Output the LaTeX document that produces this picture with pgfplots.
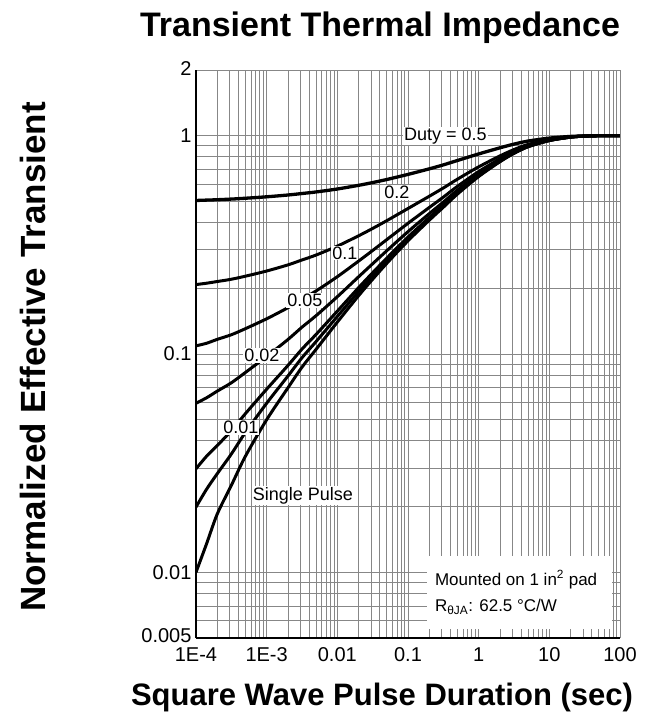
\documentclass[border=0pt]{standalone}
\usepackage{fontspec}
\setmainfont{Liberation Sans}
\usepackage{pgfplots}
\usepackage{pgfplotstable}
\pgfplotsset{compat=1.18}
\definecolor{gridgray}{RGB}{135,135,135}
\pgfplotstableread{
x s d50 d20 d10 d05 d02 d01
1e-4 0.0100 0.505 0.208 0.109 0.0595 0.0298 0.0199
1.41e-4 0.0135 0.507 0.211 0.112 0.063 0.034 0.024
2e-4 0.0185 0.509 0.2148 0.1167 0.0676 0.0381 0.0283
3.16e-4 0.025 0.5125 0.220 0.1225 0.0738 0.0445 0.0348
5e-4 0.034 0.517 0.2272 0.1306 0.0823 0.0533 0.0437
1e-3 0.050 0.525 0.240 0.145 0.0975 0.069 0.0595
2e-3 0.070 0.535 0.256 0.163 0.1165 0.0886 0.0793
3.16e-3 0.087 0.5435 0.2696 0.1783 0.1327 0.1053 0.0961
5e-3 0.105 0.5525 0.284 0.1945 0.1498 0.1229 0.114
1e-2 0.140 0.570 0.312 0.226 0.183 0.1572 0.1486
2e-2 0.185 0.5925 0.348 0.2665 0.2258 0.2013 0.1932
3.16e-2 0.22 0.61 0.376 0.298 0.259 0.2356 0.2278
5e-2 0.26 0.63 0.408 0.334 0.297 0.2748 0.2674
0.1 0.33 0.665 0.464 0.397 0.3635 0.3434 0.3367
0.2 0.41 0.705 0.528 0.469 0.4395 0.4218 0.4159
0.316 0.47 0.735 0.576 0.523 0.4965 0.4806 0.4753
0.5 0.54 0.77 0.632 0.586 0.563 0.5492 0.5446
1 0.65 0.825 0.72 0.685 0.6675 0.657 0.6535
2 0.76 0.88 0.808 0.784 0.772 0.7648 0.7624
3.16 0.83 0.915 0.864 0.847 0.8385 0.8334 0.8317
5 0.89 0.945 0.912 0.901 0.8955 0.8922 0.8911
10 0.95 0.975 0.96 0.955 0.9525 0.951 0.9505
20 0.985 0.9925 0.988 0.9865 0.9858 0.9853 0.9852
31.6 0.995 0.9975 0.996 0.9955 0.9953 0.9951 0.9951
50 1.0 1.0 1.0 1.0 1.0 1.0 1.0
100 1.0 1.0 1.0 1.0 1.0 1.0 1.0
}\zth
\begin{document}
\begin{tikzpicture}
\begin{axis}[
  at={(0,0)}, anchor=south west,
  scale only axis, width=424bp, height=568bp,
  xmode=log, ymode=log,
  xmin=1e-4, xmax=100, ymin=0.005, ymax=2,
  xtick={1e-4,1e-3,1e-2,1e-1,1,10,100},
  xticklabels={1E-4,1E-3,0.01,0.1,1,10,100},
  ytick={0.005,0.01,0.1,1,2},
  yticklabels={\raisebox{5bp}{0.005},0.01,0.1,1,\raisebox{2bp}{2}},
  minor xtick={2e-4,3e-4,4e-4,5e-4,6e-4,7e-4,8e-4,9e-4,
    2e-3,3e-3,4e-3,5e-3,6e-3,7e-3,8e-3,9e-3,
    0.02,0.03,0.04,0.05,0.06,0.07,0.08,0.09,
    0.2,0.3,0.4,0.5,0.6,0.7,0.8,0.9,
    2,3,4,5,6,7,8,9,20,30,40,50,60,70,80,90},
  minor ytick={0.006,0.007,0.008,0.009,
    0.02,0.03,0.04,0.05,0.06,0.07,0.08,0.09,
    0.2,0.3,0.4,0.5,0.6,0.7,0.8,0.9},
  grid=both,
  major grid style={gridgray, line width=0.9bp},
  minor grid style={gridgray, line width=0.8bp},
  axis x line*=bottom, axis y line*=left,
  axis line style={black, line width=1.4bp},
  major tick length=0pt, minor tick length=0pt,
  ticklabel style={font=\fontsize{20bp}{24bp}\selectfont},
  xticklabel style={yshift=-6bp},
  yticklabel style={xshift=-1bp},
  /pgf/number format/assume math mode=true,
]
\addplot[black, line width=3.3bp, smooth, line join=round] table[x=x, y=d50] {\zth};
\addplot[black, line width=3bp, smooth, line join=round] table[x=x, y=d20] {\zth};
\addplot[black, line width=3bp, smooth, line join=round] table[x=x, y=d10] {\zth};
\addplot[black, line width=3bp, smooth, line join=round] table[x=x, y=d05] {\zth};
\addplot[black, line width=3bp, smooth, line join=round] table[x=x, y=d02] {\zth};
\addplot[black, line width=3bp, smooth, line join=round] table[x=x, y=d01] {\zth};
\addplot[black, line width=3bp, smooth, line join=round] table[x=x, y=s] {\zth};

\tikzset{lab/.style={fill=white, inner sep=1bp, font=\fontsize{18bp}{20bp}\selectfont}}
\node[lab, anchor=west] at (axis cs:0.085,1.0) {Duty = 0.5};
\node[lab] at (axis cs:0.0697,0.551) {0.2};
\node[lab] at (axis cs:0.0128,0.29) {0.1};
\node[lab] at (axis cs:0.00348,0.176) {0.05};
\node[lab] at (axis cs:8.57e-4,0.0986) {0.02};
\node[lab] at (axis cs:4.32e-4,0.046) {0.01};
\node[lab] at (axis cs:3.26e-3,0.0224) {Single Pulse};

\fill[white] (axis cs:0.185,0.0055) rectangle (axis cs:76,0.0119);
\node[anchor=west, inner sep=0pt, font=\fontsize{17bp}{20bp}\selectfont] at (axis cs:0.24,0.00925) {Mounted on 1 in\textsuperscript{2} pad};
\node[anchor=west, inner sep=0pt, font=\fontsize{17bp}{20bp}\selectfont] at (axis cs:0.24,0.00695) {R\textsubscript{θJA}: 62.5 °C/W};
\end{axis}
\node[font=\bfseries\fontsize{34bp}{40bp}\selectfont] at (184bp,610bp) {Transient Thermal Impedance};
\node[font=\bfseries\fontsize{31bp}{36bp}\selectfont] at (186bp,-59bp) {Square Wave Pulse Duration (sec)};
\node[font=\bfseries\fontsize{35bp}{40bp}\selectfont, rotate=90] at (-163bp,281bp) {Normalized Effective Transient};
\pgfresetboundingbox
\path[use as bounding box] (-196bp,-77bp) rectangle (468bp,638bp);
\end{tikzpicture}
\end{document}
